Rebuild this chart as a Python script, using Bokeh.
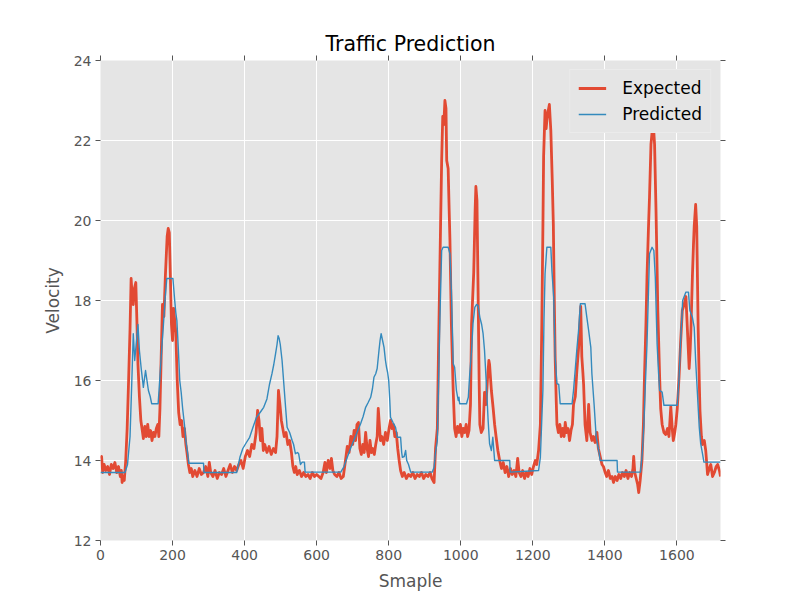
from bokeh.plotting import figure
from bokeh.models import LinearAxis, SingleIntervalTicker, Range1d, Legend, LegendItem
from bokeh.embed import file_html
from bokeh.resources import INLINE

# values (sample index, velocity)
exp_x = [0, 3, 6, 10, 15, 20, 25, 30, 35, 40, 45, 50, 55, 58, 60, 63, 66, 70, 74, 78,
         82, 85, 88, 91, 94, 98, 101, 104, 108, 112, 116, 119, 123, 127, 131, 135, 139, 143, 147, 151,
         155, 159, 162, 165, 169, 172, 176, 180, 185, 188, 191, 194, 197, 200, 203, 206, 209, 213, 217, 221,
         225, 229, 233, 237, 240, 244, 248, 252, 256, 262, 268, 274, 280, 286, 292, 298, 302, 306, 312, 318,
         324, 330, 336, 342, 348, 354, 360, 366, 372, 378, 384, 390, 396, 402, 408, 414, 420, 426, 432, 436,
         440, 444, 448, 452, 456, 462, 468, 474, 480, 486, 490, 494, 498, 502, 506, 510, 515, 520, 525, 530,
         534, 538, 542, 546, 552, 558, 564, 570, 576, 582, 588, 594, 600, 606, 612, 618, 623, 627, 632, 637,
         641, 645, 650, 656, 662, 668, 674, 680, 685, 690, 695, 700, 704, 708, 712, 716, 720, 724, 728, 732,
         736, 740, 744, 748, 752, 756, 760, 764, 768, 771, 774, 777, 781, 786, 791, 796, 801, 805, 809, 813,
         817, 821, 825, 829, 833, 838, 843, 849, 855, 861, 867, 873, 879, 885, 891, 897, 903, 909, 915, 920,
         926, 930, 935, 938, 944, 947, 950, 953, 956, 959, 961, 965, 968, 970, 974, 979, 983, 987, 991, 995,
         999, 1003, 1007, 1011, 1015, 1019, 1023, 1027, 1030, 1036, 1040, 1042, 1045, 1048, 1051, 1053, 1057, 1062, 1066, 1070,
         1074, 1078, 1080, 1085, 1090, 1094, 1098, 1103, 1108, 1113, 1118, 1123, 1128, 1133, 1138, 1143, 1148, 1153, 1158, 1162,
         1167, 1172, 1177, 1182, 1187, 1192, 1197, 1202, 1207, 1211, 1216, 1221, 1225, 1228, 1230, 1234, 1237, 1239, 1242, 1246,
         1250, 1254, 1257, 1260, 1262, 1265, 1267, 1271, 1275, 1279, 1283, 1287, 1290, 1294, 1298, 1302, 1306, 1310, 1313, 1318,
         1322, 1327, 1330, 1333, 1336, 1339, 1341, 1345, 1350, 1355, 1359, 1364, 1368, 1373, 1378, 1382, 1387, 1392, 1396, 1401,
         1405, 1410, 1415, 1420, 1424, 1429, 1434, 1439, 1444, 1449, 1454, 1459, 1464, 1469, 1474, 1478, 1480, 1483, 1487, 1491,
         1494, 1498, 1503, 1507, 1510, 1514, 1517, 1521, 1524, 1528, 1531, 1533, 1536, 1538, 1542, 1545, 1547, 1552, 1555, 1559,
         1564, 1569, 1574, 1578, 1583, 1587, 1590, 1594, 1597, 1601, 1606, 1610, 1615, 1620, 1625, 1629, 1634, 1637, 1639, 1643,
         1646, 1648, 1652, 1655, 1659, 1662, 1664, 1668, 1671, 1676, 1680, 1683, 1685, 1690, 1694, 1699, 1704, 1709, 1713, 1718,
         1721]
exp_y = [14.05, 14.1, 13.7, 13.9, 13.75, 13.85, 13.65, 13.9, 13.8, 13.95, 13.7, 13.85, 13.6, 13.75, 13.45, 13.6, 13.5, 14.0, 14.8, 16.0,
         17.3, 18.55, 18.1, 17.9, 18.3, 18.45, 17.5, 16.4, 15.6, 15.0, 14.75, 14.55, 14.85, 14.6, 14.9, 14.6, 14.75, 14.5, 14.7, 14.6,
         14.8, 14.9, 14.6, 15.3, 16.8, 17.9, 17.6, 18.6, 19.6, 19.8, 19.7, 18.6, 17.4, 17.0, 17.8, 17.5, 17.2, 16.0, 15.2, 14.9,
         15.0, 14.6, 14.8, 14.4, 14.2, 13.9, 13.7, 13.8, 13.6, 13.75, 13.6, 13.8, 13.65, 13.7, 13.85, 13.6, 13.95, 13.7, 13.6, 13.75,
         13.55, 13.7, 13.65, 13.8, 13.6, 13.75, 13.9, 13.7, 13.85, 13.75, 13.9, 14.0, 13.8, 14.1, 14.25, 14.1, 14.4, 14.3, 14.7, 15.25,
         15.0, 14.5, 14.8, 14.25, 14.4, 14.2, 14.35, 14.15, 14.3, 14.2, 14.6, 15.75, 15.4, 15.0, 14.8, 14.6, 14.7, 14.4, 14.5, 14.2,
         13.85, 13.7, 13.85, 13.65, 13.75, 13.6, 13.7, 13.6, 13.65, 13.55, 13.7, 13.6, 13.65, 13.6, 13.55, 13.7, 13.95, 13.7, 14.0, 13.8,
         14.05, 13.75, 13.65, 13.6, 13.7, 13.55, 13.6, 14.0, 14.35, 14.2, 14.6, 14.4, 14.75, 14.5, 14.9, 14.95, 14.3, 14.15, 14.4, 14.2,
         14.7, 14.3, 14.1, 14.5, 14.2, 14.3, 14.15, 14.4, 14.6, 15.3, 14.9, 14.5, 14.6, 14.4, 14.7, 14.5, 14.8, 15.0, 14.8, 14.9,
         14.6, 14.7, 14.3, 14.0, 13.75, 13.6, 13.7, 13.55, 13.65, 13.6, 13.7, 13.55, 13.65, 13.6, 13.7, 13.55, 13.65, 13.6, 13.7, 13.55,
         13.45, 14.3, 14.8, 16.6, 19.9, 21.5, 22.6, 22.4, 23.0, 22.8, 21.5, 21.3, 20.2, 19.5, 17.4, 15.75, 14.8, 14.6, 14.85, 14.7,
         14.9, 14.6, 14.8, 14.7, 14.9, 14.6, 14.75, 15.4, 17.4, 18.7, 20.3, 20.85, 20.5, 18.3, 16.0, 14.9, 14.7, 14.8, 15.7, 15.4,
         16.0, 16.5, 16.4, 15.75, 15.3, 14.9, 14.6, 14.25, 14.0, 13.8, 13.95, 13.7, 13.85, 13.6, 13.8, 13.65, 13.75, 13.6, 14.05, 13.7,
         13.6, 13.75, 13.55, 13.7, 13.6, 13.8, 13.65, 13.85, 14.0, 13.9, 14.25, 14.9, 17.4, 19.8, 21.6, 22.75, 22.3, 22.5, 22.7, 22.9,
         22.25, 21.0, 19.9, 17.8, 16.6, 15.5, 14.9, 14.7, 14.9, 14.6, 14.8, 14.6, 14.95, 14.7, 14.8, 14.5, 14.75, 14.9, 15.4, 15.6,
         16.2, 16.8, 17.3, 17.85, 16.6, 16.2, 15.9, 14.9, 14.5, 15.4, 14.7, 14.5, 14.6, 14.45, 14.7, 14.3, 14.1, 13.9, 13.85, 13.7,
         13.6, 13.75, 13.55, 13.6, 13.45, 13.6, 13.5, 13.65, 13.55, 13.7, 13.6, 13.75, 13.55, 13.7, 13.6, 13.8, 14.1, 13.7, 13.55, 13.4,
         13.2, 13.5, 14.0, 14.9, 16.1, 17.4, 18.6, 19.8, 20.6, 21.9, 22.2, 22.35, 22.2, 21.9, 20.25, 18.8, 17.75, 16.1, 15.3, 14.9,
         14.7, 14.65, 14.8, 14.6, 15.35, 14.8, 14.5, 14.7, 14.9, 15.3, 16.1, 16.9, 17.75, 17.9, 18.1, 17.3, 16.3, 16.8, 17.3, 18.6,
         19.4, 19.85, 20.4, 19.85, 17.3, 16.0, 15.25, 14.6, 14.4, 14.5, 14.25, 13.9, 13.65, 13.8, 13.9, 13.6, 13.7, 13.85, 13.9, 13.75,
         13.6]

pred_x = [0, 68, 75, 82, 87, 91, 95, 99, 104, 108, 113, 119, 125, 129, 133, 138, 142, 160, 165, 170,
          174, 179, 184, 201, 206, 209, 212, 216, 220, 224, 228, 233, 237, 242, 245, 286, 287, 378, 387, 395,
          405, 414, 424, 433, 443, 453, 462, 469, 476, 481, 486, 490, 493, 496, 499, 504, 509, 514, 518, 525,
          532, 536, 541, 547, 550, 555, 560, 566, 568, 667, 676, 685, 694, 703, 712, 722, 729, 736, 743, 750,
          755, 759, 764, 768, 773, 776, 779, 783, 787, 791, 794, 797, 800, 803, 805, 812, 819, 824, 833, 836,
          838, 843, 847, 850, 855, 861, 921, 926, 930, 935, 938, 942, 947, 951, 965, 970, 974, 977, 979, 983,
          988, 993, 995, 997, 1016, 1021, 1025, 1030, 1034, 1039, 1044, 1048, 1053, 1058, 1062, 1066, 1071, 1076, 1080, 1085,
          1089, 1094, 1136, 1137, 1216, 1221, 1228, 1231, 1234, 1239, 1250, 1253, 1258, 1262, 1267, 1272, 1276, 1309, 1313, 1318,
          1322, 1327, 1332, 1345, 1350, 1355, 1361, 1364, 1370, 1376, 1383, 1387, 1434, 1435, 1499, 1504, 1508, 1512, 1517, 1521,
          1524, 1531, 1536, 1540, 1545, 1549, 1552, 1559, 1564, 1601, 1606, 1610, 1616, 1625, 1632, 1636, 1643, 1648, 1652, 1657,
          1662, 1666, 1671, 1675, 1721]
pred_y = [13.7, 13.7, 13.9, 14.6, 16.0, 17.17, 16.5, 16.9, 17.4, 16.75, 16.3, 15.83, 16.25, 16.0, 15.75, 15.6, 15.42, 15.42, 16.1, 16.8,
          17.3, 18.0, 18.55, 18.55, 18.0, 17.7, 17.5, 16.8, 16.0, 15.7, 15.3, 14.9, 14.5, 14.17, 13.93, 13.93, 13.7, 13.7, 14.08, 14.3,
          14.45, 14.58, 14.85, 15.08, 15.2, 15.33, 15.54, 15.9, 16.17, 16.4, 16.67, 16.9, 17.12, 17.05, 16.9, 16.5, 15.9, 15.3, 14.83, 14.7,
          14.5, 14.4, 14.17, 14.2, 14.17, 13.9, 13.96, 13.96, 13.71, 13.71, 13.85, 14.08, 14.3, 14.5, 14.7, 14.92, 15.1, 15.33, 15.45, 15.58,
          15.8, 16.08, 16.17, 16.3, 16.75, 17.0, 17.17, 17.0, 16.83, 16.5, 16.33, 16.2, 16.0, 15.5, 15.08, 14.95, 14.83, 14.58, 14.58, 14.2,
          14.08, 14.1, 14.25, 14.0, 13.9, 13.71, 13.71, 13.83, 14.2, 14.5, 15.75, 17.5, 19.25, 19.33, 19.33, 19.17, 18.25, 17.2, 16.42, 16.33,
          15.75, 15.5, 15.58, 15.42, 15.42, 15.58, 16.17, 16.75, 17.42, 17.83, 17.9, 17.88, 17.58, 17.4, 17.17, 16.75, 15.92, 15.0, 14.42, 14.25,
          14.58, 14.0, 14.0, 13.71, 13.75, 14.08, 15.75, 17.5, 18.67, 19.33, 19.33, 18.75, 18.08, 16.58, 15.92, 15.9, 15.42, 15.42, 15.75, 16.3,
          16.75, 17.25, 17.92, 17.92, 17.58, 17.25, 16.83, 16.17, 15.42, 14.58, 14.25, 14.0, 14.0, 13.71, 13.71, 14.2, 14.83, 15.8, 16.92, 18.2,
          19.17, 19.33, 19.25, 18.58, 16.92, 16.2, 15.75, 15.71, 15.38, 15.38, 16.08, 16.92, 18.0, 18.21, 18.21, 17.75, 17.58, 17.33, 16.5, 15.67,
          14.83, 14.42, 14.17, 13.96, 13.96]

y_ticks_step = 2
x_ticks_step = 200

FONT = "DejaVu Sans"
GREY = "#555555"

p = figure(width=800, height=600, output_backend="svg", toolbar_location=None,
           x_range=Range1d(0, 1721), y_range=Range1d(12, 24),
           title="Traffic Prediction",
           min_border_left=100, min_border_right=80, min_border_top=60, min_border_bottom=60)

p.background_fill_color = "#E5E5E5"
p.border_fill_color = "white"
p.outline_line_color = None

p.title.align = "center"
p.title.text_font = FONT
p.title.text_font_style = "normal"
p.title.text_font_size = "20.5px"
p.title.text_color = "black"
p.title.offset = 0
p.title.standoff = 0

xt = SingleIntervalTicker(interval=x_ticks_step, num_minor_ticks=0)
yt = SingleIntervalTicker(interval=y_ticks_step, num_minor_ticks=0)
p.xaxis.ticker = xt
p.yaxis.ticker = yt
p.xgrid.ticker = xt
p.ygrid.ticker = yt
p.grid.grid_line_color = "white"
p.grid.grid_line_width = 1

p.xaxis.axis_label = "Smaple"
p.yaxis.axis_label = "Velocity"

for ax in [p.xaxis[0], p.yaxis[0]]:
    ax.axis_line_color = None
    ax.major_tick_line_color = GREY
    ax.major_tick_in = 0
    ax.major_tick_out = 5
    ax.minor_tick_line_color = None
    ax.major_label_text_font = FONT
    ax.major_label_text_font_size = "14px"
    ax.major_label_text_color = GREY
    ax.axis_label_text_font = FONT
    ax.axis_label_text_font_size = "17px"
    ax.axis_label_text_font_style = "normal"
    ax.axis_label_text_color = GREY
    ax.major_label_standoff = 4
    ax.axis_label_standoff = 8

for side, tick in (("right", yt), ("above", xt)):
    extra = LinearAxis(ticker=tick, axis_line_color=None, major_tick_line_color=GREY,
                       major_tick_in=0, major_tick_out=5, minor_tick_line_color=None,
                       major_label_text_font_size="0px", major_label_text_alpha=0,
                       major_label_standoff=0)
    p.add_layout(extra, side)

r_exp = p.line(exp_x, exp_y, line_color="#E24A33", line_width=2.8, line_join="round")
r_pred = p.line(pred_x, pred_y, line_color="#348ABD", line_width=1.4, line_join="round")

legend = Legend(items=[LegendItem(label="Expected", renderers=[r_exp]),
                       LegendItem(label="Predicted", renderers=[r_pred])],
                location="top_right")
legend.margin = 9
legend.padding = 8
legend.spacing = 6
legend.glyph_width = 28
legend.label_standoff = 16
legend.label_text_font = FONT
legend.label_text_font_size = "17px"
legend.label_text_color = "black"
legend.background_fill_color = "#E5E5E5"
legend.background_fill_alpha = 1
legend.border_line_color = "#F2F2F2"
legend.border_line_width = 1
p.add_layout(legend)

open("out.html", "w").write(file_html(p, INLINE))
